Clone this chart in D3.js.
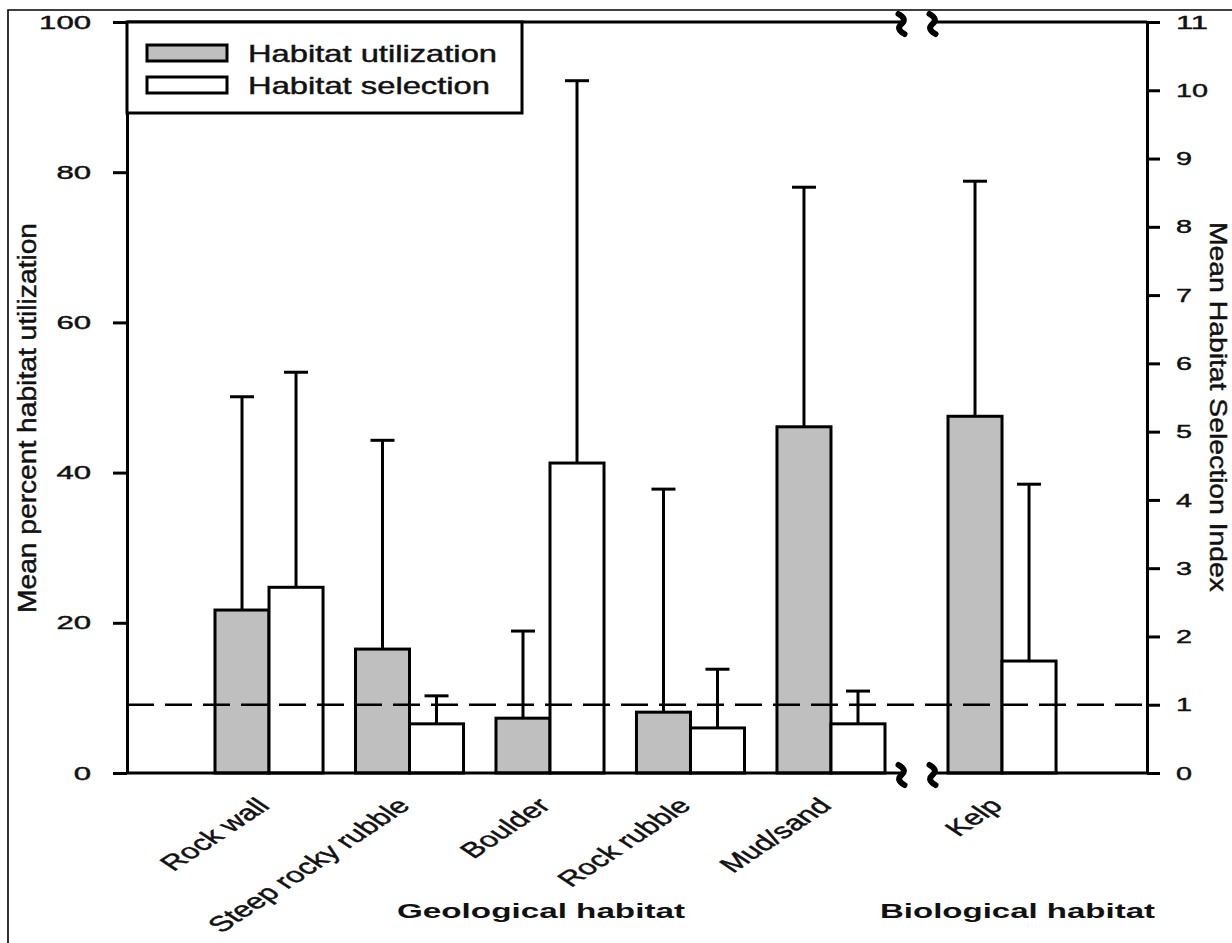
<!DOCTYPE html>
<html>
<head>
<meta charset="utf-8">
<script src="https://cdn.jsdelivr.net/npm/d3@7"></script>
<style>
  html, body { margin: 0; padding: 0; background: #fff; }
  svg { display: block; font-family: "Liberation Sans", Arial, Helvetica, sans-serif; }
  .heavy { stroke: #111; stroke-width: 0.45px; }
</style>
</head>
<body>
<svg id="chart" width="1232" height="943"></svg>
<script>
// ---------------- data ----------------
const categories = ["Rock wall", "Steep rocky rubble", "Boulder", "Rock rubble", "Mud/sand", "Kelp"];
const habitatGroup = ["Geological", "Geological", "Geological", "Geological", "Geological", "Biological"];
const utilization = [21.7, 16.5, 7.3, 8.1, 46.1, 47.5];          // left axis, %
const utilizationUpper = [50.1, 44.3, 18.9, 37.8, 78.0, 78.8];   // top of error bar
const selection = [2.72, 0.72, 4.54, 0.66, 0.72, 1.64];          // right axis, index
const selectionUpper = [5.87, 1.13, 10.14, 1.52, 1.20, 4.23];    // top of error bar
const leftTicks = [0, 20, 40, 60, 80, 100];
const rightTicks = [0, 1, 2, 3, 4, 5, 6, 7, 8, 9, 10, 11];
const referenceLine = 1;
const seriesNames = ["Habitat utilization", "Habitat selection"];
const groupTitles = ["Geological habitat", "Biological habitat"];
const axisTitles = ["Mean percent habitat utilization", "Mean Habitat Selection Index"];

// ---------------- layout ----------------
const svg = d3.select("#chart");
const L = 127, R = 1147, T = 22, B = 773;
const GRAY = "#bfbfbf";
const SW = 3;

const yL = d3.scaleLinear().domain([0, 100]).range([B, T]);
const yR = d3.scaleLinear().domain([0, 11]).range([B, T]);

const geoCats = categories.filter((c, i) => habitatGroup[i] === "Geological");
const bioCats = categories.filter((c, i) => habitatGroup[i] === "Biological");
const xGeo = d3.scaleBand().domain(geoCats).range([215, 885]).paddingInner(0.231).paddingOuter(0);
const xBio = d3.scaleBand().domain(bioCats).range([948, 1056]).paddingInner(0).paddingOuter(0);
const xPos = c => (geoCats.includes(c) ? xGeo(c) : xBio(c));
const bw = xGeo.bandwidth();
const xInner = d3.scaleBand().domain(["u", "s"]).range([0, bw]);
const barW = xInner.bandwidth();

const breakC = (xGeo.range()[1] + xBio.range()[0]) / 2;
const breakL = breakC - 15, breakR = breakC + 16;

// frame around image
svg.append("path").attr("d", `M8,943 L8,10 L1240,10`).attr("fill", "none").attr("stroke", "#000").attr("stroke-width", 1.6);

// ---------------- bars ----------------
const data = categories.map((c, i) => ({ c, u: utilization[i], uu: utilizationUpper[i], s: selection[i], su: selectionUpper[i] }));
const g = svg.append("g");

const capW = 24;
data.forEach(d => {
  const xu = xPos(d.c) + xInner("u") + barW / 2;
  const xs = xPos(d.c) + xInner("s") + barW / 2;
  [[xu, yL(d.u), yL(d.uu)], [xs, yR(d.s), yR(d.su)]].forEach(([x, y0, y1]) => {
    g.append("line").attr("x1", x).attr("x2", x).attr("y1", y0).attr("y2", y1)
      .attr("stroke", "#000").attr("stroke-width", SW);
    g.append("line").attr("x1", x - capW / 2).attr("x2", x + capW / 2).attr("y1", y1).attr("y2", y1)
      .attr("stroke", "#000").attr("stroke-width", SW);
  });
});

g.selectAll("rect.u").data(data).join("rect").attr("class", "u")
  .attr("x", d => xPos(d.c) + xInner("u")).attr("width", barW)
  .attr("y", d => yL(d.u)).attr("height", d => B - yL(d.u))
  .attr("fill", GRAY).attr("stroke", "#000").attr("stroke-width", SW);
g.selectAll("rect.s").data(data).join("rect").attr("class", "s")
  .attr("x", d => xPos(d.c) + xInner("s")).attr("width", barW)
  .attr("y", d => yR(d.s)).attr("height", d => B - yR(d.s))
  .attr("fill", "#fff").attr("stroke", "#000").attr("stroke-width", SW);

// reference dashed line at selection index = 1
svg.append("line").attr("x1", L).attr("x2", R).attr("y1", yR(referenceLine)).attr("y2", yR(referenceLine))
  .attr("stroke", "#000").attr("stroke-width", 2.6).attr("stroke-dasharray", "27,11");

// ---------------- axes ----------------
function styleAxis(sel, digitW) {
  sel.select(".domain").attr("stroke-width", SW);
  sel.selectAll(".tick line").attr("stroke-width", SW);
  sel.selectAll(".tick text")
    .attr("class", "heavy")
    .attr("font-size", 19)
    .attr("fill", "#111")
    .attr("font-family", "Liberation Sans, Arial, sans-serif")
    .attr("textLength", function () { return this.textContent.length * digitW; })
    .attr("lengthAdjust", "spacingAndGlyphs");
}
const axL = svg.append("g").attr("transform", `translate(${L},0)`)
  .call(d3.axisLeft(yL).tickValues(leftTicks).tickSize(14).tickSizeOuter(0).tickPadding(22));
styleAxis(axL, 17.3);
const axR = svg.append("g").attr("transform", `translate(${R},0)`)
  .call(d3.axisRight(yR).tickValues(rightTicks).tickSize(13).tickSizeOuter(0).tickPadding(16));
styleAxis(axR, 16);

// top and bottom lines with break
[T, B].forEach(y => {
  svg.append("line").attr("x1", L).attr("x2", breakL).attr("y1", y).attr("y2", y).attr("stroke", "#000").attr("stroke-width", SW);
  svg.append("line").attr("x1", breakR).attr("x2", R).attr("y1", y).attr("y2", y).attr("stroke", "#000").attr("stroke-width", SW);
  [breakL, breakR].forEach(cx => {
    const cy = y + 2;
    svg.append("path")
      .attr("d", `M${cx - 3},${cy - 10} Q${cx + 6},${cy - 5} ${cx},${cy} Q${cx - 6},${cy + 5} ${cx + 3},${cy + 10}`)
      .attr("fill", "none").attr("stroke", "#000").attr("stroke-width", 6).attr("stroke-linecap", "round");
  });
});

// ---------------- category labels ----------------
svg.append("g").selectAll("text").data(categories).join("text")
  .attr("class", "heavy")
  .attr("transform", c => `translate(${xPos(c) + bw / 2 + 2},${807}) scale(1.5,1) rotate(-45)`)
  .attr("text-anchor", "end")
  .attr("font-size", 21.5)
  .attr("fill", "#111")
  .text(c => c);

// group titles
svg.append("text").attr("x", 397).attr("y", 918).attr("font-size", 20).attr("font-weight", "bold")
  .attr("textLength", 288).attr("lengthAdjust", "spacingAndGlyphs").attr("fill", "#111").text(groupTitles[0]);
svg.append("text").attr("x", 880).attr("y", 918).attr("font-size", 20).attr("font-weight", "bold")
  .attr("textLength", 275).attr("lengthAdjust", "spacingAndGlyphs").attr("fill", "#111").text(groupTitles[1]);

// axis titles
svg.append("text").attr("class", "heavy").attr("transform", `translate(36,418) rotate(-90)`).attr("text-anchor", "middle")
  .attr("font-size", 25).attr("textLength", 390).attr("lengthAdjust", "spacingAndGlyphs").attr("fill", "#111")
  .text(axisTitles[0]);
svg.append("text").attr("class", "heavy").attr("transform", `translate(1210,407) rotate(90)`).attr("text-anchor", "middle")
  .attr("font-size", 24).attr("textLength", 370).attr("lengthAdjust", "spacingAndGlyphs").attr("fill", "#111")
  .text(axisTitles[1]);

// ---------------- legend ----------------
const lg = svg.append("g");
lg.append("rect").attr("x", L).attr("y", T).attr("width", 522 - L).attr("height", 113 - T)
  .attr("fill", "#fff").attr("stroke", "#000").attr("stroke-width", SW);
const legendFills = [GRAY, "#fff"];
const legendTextW = [249, 242];
seriesNames.forEach((n, i) => {
  const cy = 53 + i * 32;
  lg.append("rect").attr("x", 147).attr("y", cy - 8).attr("width", 80).attr("height", 16)
    .attr("fill", legendFills[i]).attr("stroke", "#000").attr("stroke-width", SW);
  lg.append("text").attr("class", "heavy").attr("x", 248).attr("y", cy + 9).attr("font-size", 24)
    .attr("textLength", legendTextW[i]).attr("lengthAdjust", "spacingAndGlyphs").attr("fill", "#111").text(n);
});
</script>
</body>
</html>
